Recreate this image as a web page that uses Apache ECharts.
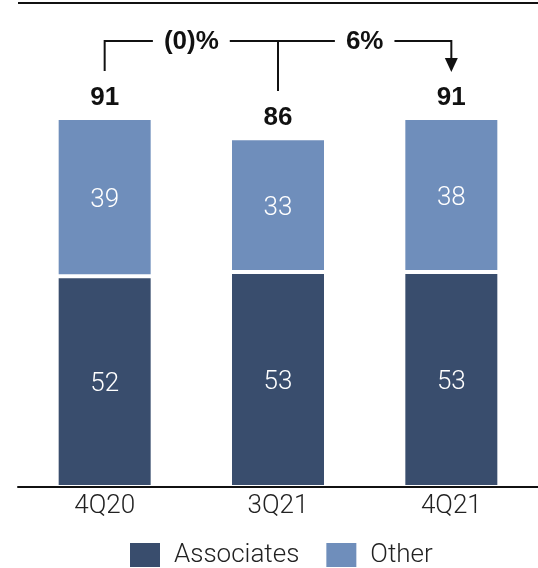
<!DOCTYPE html>
<html>
<head>
<meta charset="utf-8">
<script src="https://cdn.jsdelivr.net/npm/echarts@6/dist/echarts.min.js"></script>
<style>
  html, body { margin: 0; padding: 0; background: #fff; }
  #chart { width: 538px; height: 568px; }
</style>
</head>
<body>
<div id="chart"></div>
<script>
// Quarterly split: associates vs other
const categories = ['4Q20', '3Q21', '4Q21'];
const associates = [52, 53, 53];
const other = [39, 33, 38];
const changeLabels = ['(0)%', '6%'];

const totals = associates.map((v, i) => v + other[i]);

const FONT = 'Roboto, "Liberation Sans", Arial, sans-serif';
const BOLD_FONT = '"Liberation Sans", Arial, sans-serif';
const DARK = '#394d6d';
const LIGHT = '#6f8ebb';
const INK = '#111';

const chart = echarts.init(document.getElementById('chart'), null, { renderer: 'canvas' });

const segStyle = (color) => ({ color: color, borderColor: '#fff', borderWidth: 2 });
const innerLabel = {
  show: true, position: 'inside', color: '#fff',
  fontSize: 26, fontWeight: 300, fontFamily: FONT, offset: [0, 3]
};

const option = {
  animation: false,
  backgroundColor: '#fff',
  grid: { left: 18, right: -2, top: 81.5, bottom: 81, containLabel: false },
  xAxis: {
    type: 'category',
    data: categories,
    z: 5,
    axisLine: { show: true, lineStyle: { color: INK, width: 2 } },
    axisTick: { show: false },
    axisLabel: { color: '#222', fontSize: 26, fontWeight: 300, fontFamily: FONT, margin: 6 }
  },
  yAxis: {
    type: 'value',
    min: 0,
    max: 100,
    show: false,
    splitLine: { show: false }
  },
  legend: {
    data: ['Associates', 'Other'],
    left: 128,
    top: 541,
    padding: 0,
    itemWidth: 32,
    itemHeight: 26,
    itemGap: 25,
    icon: 'rect',
    textStyle: { color: '#222', fontSize: 26, fontWeight: 300, fontFamily: FONT, padding: [0, 0, 0, 8], lineHeight: 26 }
  },
  series: [
    {
      name: 'Associates',
      type: 'bar',
      stack: 'total',
      barWidth: 96,
      data: associates,
      itemStyle: segStyle(DARK),
      label: innerLabel
    },
    {
      name: 'Other',
      type: 'bar',
      stack: 'total',
      barWidth: 96,
      data: other,
      itemStyle: segStyle(LIGHT),
      label: innerLabel
    },
    {
      name: 'Total',
      type: 'bar',
      stack: 'total',
      barWidth: 96,
      data: totals.map(() => 0),
      itemStyle: { color: 'transparent' },
      label: {
        show: true, position: 'top', distance: 7,
        formatter: (p) => String(totals[p.dataIndex]),
        color: INK, fontSize: 26, fontWeight: 'bold', fontFamily: BOLD_FONT
      }
    }
  ]
};

chart.setOption(option);

// Bracket with change percentages linking the three totals
const xs = categories.map((c) => chart.convertToPixel({ xAxisIndex: 0 }, c));
const yBracket = 41;
const lineStyle = { stroke: INK, lineWidth: 2 };
const graphics = [
  // top rule
  { type: 'rect', left: 18, top: 2, shape: { width: 520, height: 2 }, style: { fill: INK } },
  // horizontal span
  { type: 'line', shape: { x1: xs[0], y1: yBracket, x2: xs[2], y2: yBracket }, style: lineStyle },
  // left drop
  { type: 'line', shape: { x1: xs[0], y1: yBracket - 1, x2: xs[0], y2: 71 }, style: lineStyle },
  // middle drop
  { type: 'line', shape: { x1: xs[1], y1: yBracket, x2: xs[1], y2: 91 }, style: lineStyle },
  // right drop with arrow
  { type: 'line', shape: { x1: xs[2], y1: yBracket - 1, x2: xs[2], y2: 60 }, style: lineStyle },
  { type: 'polygon', shape: { points: [[xs[2] - 6.5, 58], [xs[2] + 6.5, 58], [xs[2], 72]] }, style: { fill: INK } }
];
changeLabels.forEach((t, i) => {
  const cx = (xs[i] + xs[i + 1]) / 2;
  graphics.push({
    type: 'text',
    x: cx, y: yBracket + 1,
    z: 10,
    style: {
      text: t, align: 'center', verticalAlign: 'middle',
      fill: INK, font: 'bold 26px ' + BOLD_FONT,
      backgroundColor: '#fff', padding: [2, 11, 2, 11]
    }
  });
});
chart.setOption({ graphic: graphics });
</script>
</body>
</html>
